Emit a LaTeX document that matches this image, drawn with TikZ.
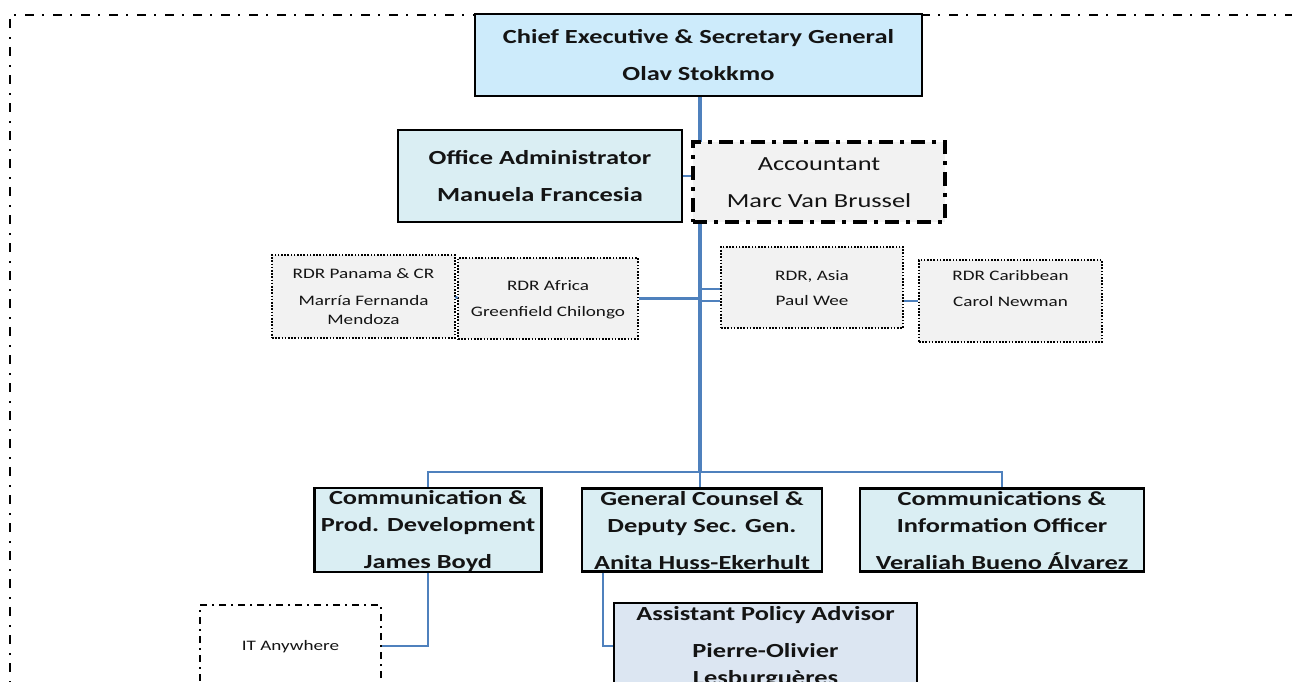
\documentclass[tikz,border=0pt]{standalone}
\usepackage{fontspec}
\newfontfamily\wf{Carlito}[FakeStretch=1.32]
\newcommand\fbig{\wf\bfseries\fontsize{20}{24}\selectfont}
\newcommand\freg{\wf\fontsize{20}{24}\selectfont}
\newcommand\fsmall{\wf\fontsize{14.5}{17.4}\selectfont}
\newcommand\bst{\rule[-2.5pt]{0pt}{19pt}}
\newcommand\sst{\rule[-1.6pt]{0pt}{13.4pt}}
\definecolor{linkc}{HTML}{4F81BD}
\definecolor{topfill}{HTML}{CDEBFB}
\definecolor{midfill}{HTML}{DAEEF3}
\definecolor{greyfill}{HTML}{F2F2F2}
\definecolor{apafill}{HTML}{DCE6F2}
\definecolor{txt}{HTML}{141414}
\tikzset{
  solidbox/.style={draw=black, line width=2.2pt, inner sep=0pt, align=center, text=txt, font=\fbig},
  topbox/.style={solidbox, fill=topfill},
  midbox/.style={solidbox, fill=midfill},
  apabox/.style={solidbox, fill=apafill},
  acctbox/.style={draw=black, fill=greyfill, line width=3.5pt, dash pattern=on 14pt off 7pt on 4pt off 7pt, inner sep=0pt, align=center, text=txt, font=\freg},
  rdrbox/.style={draw=black, fill=greyfill, line width=1.6pt, dash pattern=on 1.6pt off 1.6pt, inner sep=0pt, align=center, text=txt, font=\fsmall},
  itbox/.style={draw=black, fill=white, line width=1.5pt, dash pattern=on 7pt off 5pt on 2pt off 5pt, inner sep=0pt, align=center, text=txt, font=\fsmall},
  outer/.style={draw=black, line width=2pt, dash pattern=on 9pt off 8pt on 2pt off 9pt},
  link/.style={draw=linkc, line width=2.5pt},
  trunk/.style={draw=linkc, line width=3.5pt},
}
\begin{document}
\begin{tikzpicture}[x=1pt, y=-1pt]
\useasboundingbox (0,0) rectangle (1292,682);
\clip (0,0) rectangle (1292,682);
\draw[outer] (10,700) -- (10,15) -- (1300,15);

\coordinate (j) at (700,472);

\node[topbox, minimum width=447pt, minimum height=82pt] (ceo) at (698.5,55)
  {\bst Chief Executive \& Secretary General\\[13pt]\bst Olav Stokkmo};
\node[midbox, minimum width=284pt, minimum height=92pt] (oa) at (540,176)
  {\bst Office Administrator\\[13pt]\bst Manuela Francesia};

\draw[trunk] (ceo.south -| j) -- (j);
\draw[link] (oa.east) -- (oa.east -| j);

\node[acctbox, minimum width=252pt, minimum height=80pt] (acc) at (819,182)
  {\bst Accountant\\[13pt]\bst Marc Van Brussel};

\node[rdrbox, minimum width=183pt, minimum height=83pt] (pan) at (363.5,296.5)
  {\sst RDR Panama \& CR\\[9.6pt]\sst Marría Fernanda\\[1.6pt]\sst Mendoza};
\node[rdrbox, minimum width=180pt, minimum height=81pt] (af) at (548,298.5)
  {\sst RDR Africa\\[8.6pt]\sst Greenfield Chilongo};
\node[rdrbox, minimum width=182pt, minimum height=81pt] (asia) at (812,287.5)
  {\sst RDR, Asia\\[7.6pt]\sst Paul Wee};
\node[rdrbox, minimum width=183pt, minimum height=82pt] (car) at (1010.5,301)
  {\sst RDR Caribbean\\[8.6pt]\sst Carol Newman\\[8.6pt]\sst};

\draw[link, line width=3.5pt] (af.east) -- (af.east -| j);
\draw[link] (af.west) -- (pan.east);
\coordinate (a1) at ([yshift=-1.5pt]asia.west);
\coordinate (a2) at ([yshift=-13.5pt]asia.west);
\draw[link] (a1) -- (a1 -| j);
\draw[link] (a2) -- (a2 -| j);
\draw[link] (car.west) -- (car.west -| asia.east);

\node[midbox, minimum width=227pt, minimum height=82pt] (cp) at (428,530)
  {\bst Communication \&\\[3pt]\bst Prod. Development\\[13pt]\bst James Boyd};
\node[midbox, minimum width=240pt, minimum height=82pt] (gc) at (702,530)
  {\bst General Counsel \&\\[3pt]\bst Deputy Sec. Gen.\\[13pt]\bst Anita Huss-Ekerhult};
\node[midbox, minimum width=284pt, minimum height=82pt] (ci) at (1002,530)
  {\bst Communications \&\\[3pt]\bst Information Officer\\[13pt]\bst Veraliah Bueno Álvarez};

\draw[link] (cp.north) |- (j) -| (ci.north);
\draw[link] (j) -- (j |- gc.north);

\node[itbox, minimum width=181pt, minimum height=82pt] (it) at (290.5,646)
  {\sst IT Anywhere};
\node[apabox, minimum width=303pt, minimum height=86pt] (apa) at (765.5,646)
  {\bst Assistant Policy Advisor\\[13pt]\bst Pierre-Olivier\\[3pt]\bst Lesburguères};

\draw[link] (cp.south) |- (it.east);
\draw[link] ([xshift=22pt]gc.south west) |- (apa.west);
\end{tikzpicture}
\end{document}
